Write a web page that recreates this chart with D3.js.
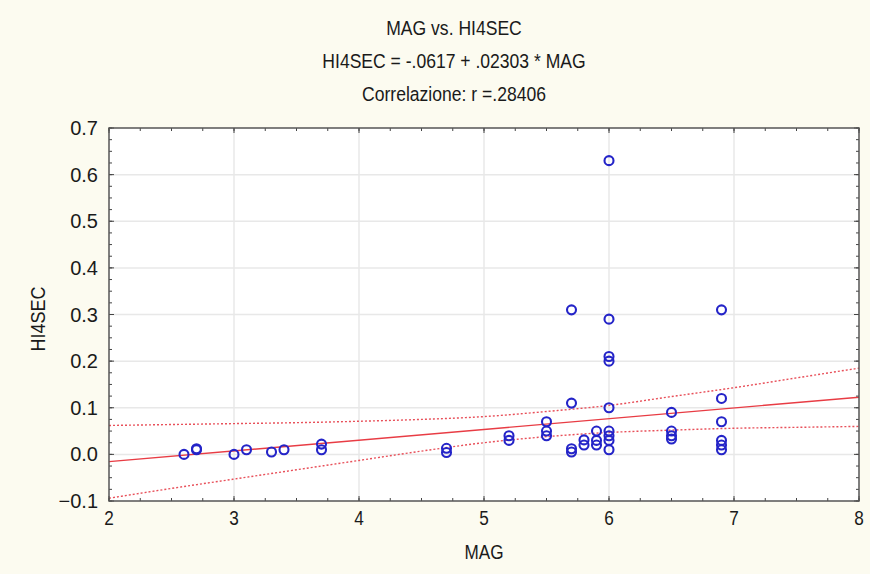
<!DOCTYPE html>
<html>
<head>
<meta charset="utf-8">
<script src="https://cdn.jsdelivr.net/npm/d3@7"></script>
<style>
  html, body { margin: 0; padding: 0; background: #fcfbf0; }
  svg { display: block; }
  text { font-family: "Liberation Sans", Arial, sans-serif; fill: #1a1a1a; }
</style>
</head>
<body>
<svg id="chart" width="870" height="574"></svg>
<script>
// ---- data ----
const mag = [2.6, 2.7, 2.7, 3.0, 3.1, 3.3, 3.4, 3.7, 3.7, 4.7, 4.7,
  5.2, 5.2, 5.5, 5.5, 5.5, 5.7, 5.7, 5.7, 5.7, 5.8, 5.8, 5.9, 5.9, 5.9,
  6.0, 6.0, 6.0, 6.0, 6.0, 6.0, 6.0, 6.0, 6.0,
  6.5, 6.5, 6.5, 6.5, 6.9, 6.9, 6.9, 6.9, 6.9, 6.9];
const hi4sec = [0.000, 0.010, 0.012, 0.000, 0.010, 0.005, 0.010, 0.022, 0.010, 0.013, 0.004,
  0.040, 0.030, 0.070, 0.050, 0.040, 0.310, 0.110, 0.012, 0.005, 0.031, 0.020, 0.050, 0.030, 0.020,
  0.630, 0.290, 0.210, 0.200, 0.100, 0.050, 0.040, 0.030, 0.010,
  0.090, 0.050, 0.040, 0.033, 0.310, 0.120, 0.070, 0.030, 0.020, 0.010];
const intercept = -0.0617;
const slope = 0.02303;
const bandX     = [2, 2.5, 3, 3.5, 4, 4.5, 5, 5.5, 6, 6.5, 7, 7.5, 8];
const bandUpper = [0.062, 0.064, 0.066, 0.068, 0.071, 0.075, 0.081, 0.092, 0.105, 0.124, 0.143, 0.164, 0.185];
const bandLower = [-0.094, -0.073, -0.053, -0.033, -0.013, 0.007, 0.025, 0.038, 0.047, 0.052, 0.056, 0.058, 0.060];
const xTicks = [2, 3, 4, 5, 6, 7, 8];
const yTicks = [-0.1, 0.0, 0.1, 0.2, 0.3, 0.4, 0.5, 0.6, 0.7];
const titleLines = ["MAG vs. HI4SEC", "HI4SEC = -.0617 + .02303 * MAG", "Correlazione: r =.28406"];

// ---- layout ----
const L = 109, R = 859, T = 128, B = 501;
const svg = d3.select("#chart");
const x = d3.scaleLinear().domain([2, 8]).range([L, R]);
const y = d3.scaleLinear().domain([-0.1, 0.7]).range([B, T]);

// narrow text helper (reference font is a condensed sans)
function label(parent, tx, ty, str, size, sx, anchor, rot) {
  const g = parent.append("g")
    .attr("transform", `translate(${tx},${ty})${rot ? ` rotate(${rot})` : ""} scale(${sx},1)`);
  g.append("text").attr("x", 0).attr("y", 0).attr("text-anchor", anchor || "middle")
    .attr("font-size", size).text(str);
  return g;
}

// plot background
svg.append("rect").attr("x", L).attr("y", T).attr("width", R - L).attr("height", B - T)
  .attr("fill", "#ffffff");

// grid
const grid = svg.append("g");
grid.selectAll("line.gx").data(xTicks.slice(1, -1)).join("line")
  .attr("x1", d => x(d)).attr("x2", d => x(d)).attr("y1", T).attr("y2", B)
  .attr("stroke", "#e8e8e8").attr("stroke-width", 1.5);
grid.selectAll("line.gy").data(yTicks.slice(1, -1)).join("line")
  .attr("y1", d => y(d)).attr("y2", d => y(d)).attr("x1", L).attr("x2", R)
  .attr("stroke", "#e8e8e8").attr("stroke-width", 1.5);

// confidence bands
const bandLine = (arr) => d3.line().x((d, i) => x(bandX[i])).y(d => y(d)).curve(d3.curveMonotoneX)(arr);
svg.append("path").attr("d", bandLine(bandUpper)).attr("fill", "none")
  .attr("stroke", "#e8505a").attr("stroke-width", 1.4).attr("stroke-dasharray", "2,2");
svg.append("path").attr("d", bandLine(bandLower)).attr("fill", "none")
  .attr("stroke", "#e8505a").attr("stroke-width", 1.4).attr("stroke-dasharray", "2,2");

// regression line
svg.append("line")
  .attr("x1", x(2)).attr("y1", y(intercept + slope * 2))
  .attr("x2", x(8)).attr("y2", y(intercept + slope * 8))
  .attr("stroke", "#e83c44").attr("stroke-width", 1.4);

// points
svg.append("g").selectAll("circle").data(mag.map((m, i) => [m, hi4sec[i]])).join("circle")
  .attr("cx", d => x(d[0])).attr("cy", d => y(d[1])).attr("r", 4.5)
  .attr("fill", "none").attr("stroke", "#2424c8").attr("stroke-width", 2.1);

// axes with inside ticks on all sides
const ax = svg.append("g");
const xMinor = d3.range(2, 8.001, 0.25);
const yMinor = d3.range(-0.1, 0.7001, 0.025);
function ticksX(vals, len) {
  ax.append("g").selectAll("line").data(vals).join("line")
    .attr("x1", d => x(d)).attr("x2", d => x(d)).attr("y1", B).attr("y2", B - len)
    .attr("stroke", "#444");
  ax.append("g").selectAll("line").data(vals).join("line")
    .attr("x1", d => x(d)).attr("x2", d => x(d)).attr("y1", T).attr("y2", T + len)
    .attr("stroke", "#444");
}
function ticksY(vals, len) {
  ax.append("g").selectAll("line").data(vals).join("line")
    .attr("y1", d => y(d)).attr("y2", d => y(d)).attr("x1", L).attr("x2", L + len)
    .attr("stroke", "#444");
  ax.append("g").selectAll("line").data(vals).join("line")
    .attr("y1", d => y(d)).attr("y2", d => y(d)).attr("x1", R).attr("x2", R - len)
    .attr("stroke", "#444");
}
ticksX(xMinor, 3); ticksX(xTicks, 5);
ticksY(yMinor, 3); ticksY(yTicks, 5);

// frame
svg.append("rect").attr("x", L).attr("y", T).attr("width", R - L).attr("height", B - T)
  .attr("fill", "none").attr("stroke", "#555").attr("stroke-width", 1.5);

// tick labels
const xl = svg.append("g");
xTicks.forEach(d => label(xl, x(d), B + 24, d3.format("d")(d), 19.5, 0.88, "middle"));
const yl = svg.append("g");
yTicks.forEach(d => label(yl, L - 11, y(d) + 7, d3.format(".1f")(d), 20, 1, "end"));

// axis titles
label(svg, (L + R) / 2, 559, "MAG", 19.5, 0.88, "middle");
label(svg, 45, 319, "HI4SEC", 20, 0.9, "middle", -90);

// titles
titleLines.forEach((t, i) => label(svg, 454, 35 + i * 33, t, 19.5, 0.9, "middle"));
</script>
</body>
</html>
